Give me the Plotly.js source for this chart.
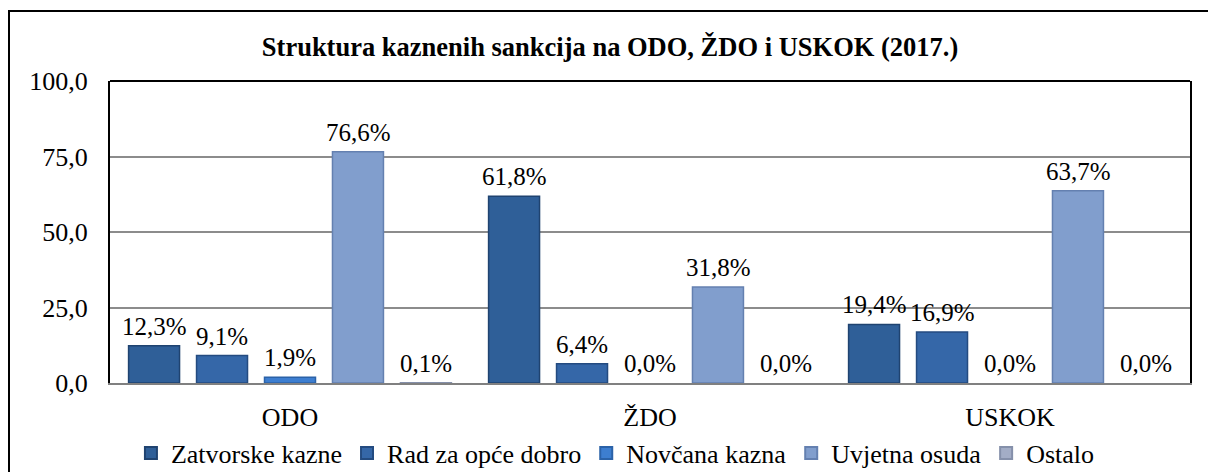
<!DOCTYPE html>
<html>
<head>
<meta charset="utf-8">
<script src="https://cdn.plot.ly/plotly-3.0.1.min.js"></script>
<style>
  html, body { margin: 0; padding: 0; background: #ffffff; }
  #chart { width: 1208px; height: 472px; }
</style>
</head>
<body>
<div id="chart"></div>
<script>
const categories = ["ODO", "ŽDO", "USKOK"];
const seriesNames = ["Zatvorske kazne", "Rad za opće dobro", "Novčana kazna", "Uvjetna osuda", "Ostalo"];
const zatvorske = [12.3, 61.8, 19.4];
const radZaOpceDobro = [9.1, 6.4, 16.9];
const novcana = [1.9, 0.0, 0.0];
const uvjetna = [76.6, 31.8, 63.7];
const ostalo = [0.1, 0.0, 0.0];
const yTicks = [0, 25, 50, 75, 100];
const chartTitle = "Struktura kaznenih sankcija na ODO, ŽDO i USKOK (2017.)";

const seriesValues = [zatvorske, radZaOpceDobro, novcana, uvjetna, ostalo];
const fillColors = ["#2f5f98", "#3567a8", "#3d7ed0", "#819ecd", "#a3adc6"];
const edgeColors = ["#1f4370", "#244b80", "#2b62a8", "#6480b0", "#8590aa"];

const FONT = "Liberation Serif";

const traces = seriesNames.map((name, i) => ({
  type: "bar",
  name: name,
  x: categories,
  y: seriesValues[i],
  marker: {
    color: fillColors[i],
    line: { color: edgeColors[i], width: seriesValues[i].map(v => (v > 0 ? 1.5 : 0)) }
  },
  hoverinfo: "x+y+name"
}));

const nSeries = seriesNames.length;
const slotPx = 68;
const annotations = [];
seriesValues.forEach((vals, i) => {
  vals.forEach((v, j) => {
    annotations.push({
      x: categories[j], y: v, xref: "x", yref: "y",
      text: v.toFixed(1).replace(".", ",") + "%",
      showarrow: false, xanchor: "center", yanchor: "bottom",
      xshift: (i - (nSeries - 1) / 2) * slotPx, yshift: 4,
      font: { family: FONT, size: 25, color: "#000000" }
    });
  });
});

const layout = {
  width: 1208, height: 472,
  margin: { l: 110, r: 18, t: 81, b: 89, pad: 0, autoexpand: false },
  paper_bgcolor: "#ffffff", plot_bgcolor: "#ffffff",
  separators: ",.",
  font: { family: FONT, size: 26, color: "#000000" },
  title: {
    text: "<b>" + chartTitle + "</b>",
    font: { family: FONT, size: 26.5, color: "#000000" },
    x: 0.505, xanchor: "center", y: 0.9, yanchor: "middle", yref: "container"
  },
  barmode: "group",
  bargap: 0.056,
  bargroupgap: 0.25,
  showlegend: true,
  legend: {
    orientation: "h", x: 0.468, xanchor: "center",
    yref: "container", y: 0.04, yanchor: "middle",
    bgcolor: "rgba(0,0,0,0)",
    font: { family: FONT, size: 26, color: "#000000" },
    itemsizing: "constant", traceorder: "normal", itemclick: false
  },
  xaxis: {
    type: "category",
    showgrid: false, zeroline: false,
    showline: true, linecolor: "#808080", linewidth: 2,
    ticks: "", ticklabelstandoff: 10,
    tickfont: { family: FONT, size: 26, color: "#000000" },
    fixedrange: true
  },
  yaxis: {
    range: [0, 100],
    tickvals: yTicks, tickformat: ".1f",
    showgrid: true, gridcolor: "#8c8c8c", gridwidth: 2,
    zeroline: false,
    showline: true, mirror: true, linecolor: "#000000", linewidth: 2,
    ticks: "", ticklabelstandoff: 15,
    tickfont: { family: FONT, size: 26, color: "#000000" },
    fixedrange: true
  },
  annotations: annotations,
  shapes: [
    { type: "line", xref: "paper", yref: "paper", x0: 0, x1: 1, y0: 1, y1: 1,
      line: { color: "#000000", width: 2 }, layer: "above" },
    { type: "rect", xref: "paper", yref: "paper",
      x0: (9 - 110) / 1080, x1: (1240 - 110) / 1080,
      y0: (383 - 520) / 302, y1: (383 - 11) / 302,
      line: { color: "#000000", width: 2 }, fillcolor: "rgba(0,0,0,0)", layer: "above" }
  ]
};

Plotly.newPlot("chart", traces, layout, { displayModeBar: false, staticPlot: true });
</script>
</body>
</html>
